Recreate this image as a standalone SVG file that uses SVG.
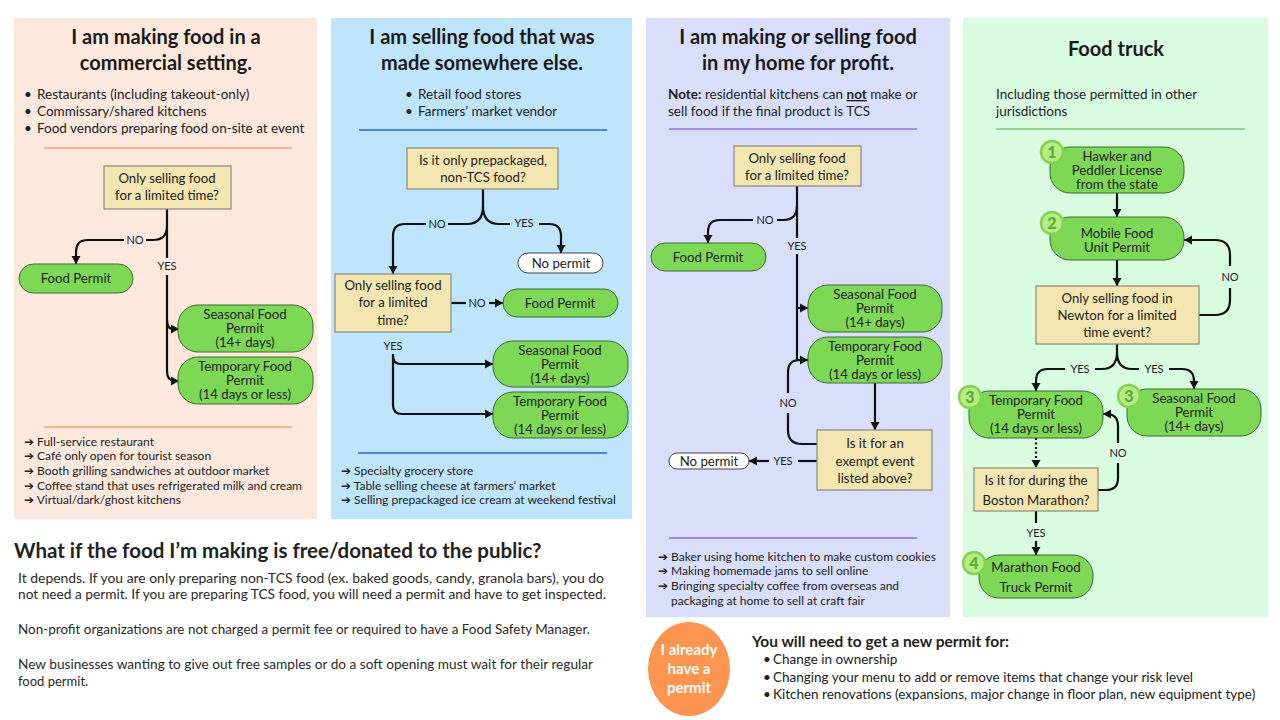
<svg xmlns="http://www.w3.org/2000/svg" width="1280" height="720" viewBox="0 0 1280 720">
<defs>
<marker id="ah" markerUnits="userSpaceOnUse" markerWidth="10" markerHeight="10" refX="8" refY="5" orient="auto">
<path d="M0,0.5 L8,5 L0,9.5 Z" fill="#111"/>
</marker>
<style>
text{font-family:Lato,"Open Sans","Liberation Sans",sans-serif;fill:#222}
.title{font-size:20px;font-weight:700;text-anchor:middle;fill:#1a1a1a}
.bul{font-size:13.5px}
.ex{font-size:12px}
.nt{font-size:13.2px;text-anchor:middle}
.lbl{font-size:11px;text-anchor:middle}
.pill{fill:#7dd856;stroke:#3f6b33;stroke-width:1}
.np{fill:#fff;stroke:#444;stroke-width:1}
.dec{fill:#f3e6b0;stroke:#8a8a78;stroke-width:1.2}
.badge{fill:#b6ec84;stroke:#86d24f;stroke-width:2.5}
.bn{font-size:16px;font-weight:900;fill:#58ad33;text-anchor:middle}
.c{fill:none;stroke:#111;stroke-width:2.2}
.ca{fill:none;stroke:#111;stroke-width:2.2;marker-end:url(#ah)}
.body{font-size:13px;fill:#2a2a2a}
.wt{font-size:15px;font-weight:700;text-anchor:middle;fill:#fff}
</style>
</defs>

<!-- panels -->
<g id="panel-commercial">
<rect x="14" y="18" width="303" height="501" fill="#fde8de"/>
<text class="title" x="166" y="44">I am making food in a</text>
<text class="title" x="166" y="70">commercial setting.</text>
<text class="bul" x="24" y="99">•</text><text class="bul" x="37" y="99">Restaurants (including takeout-only)</text>
<text class="bul" x="24" y="116">•</text><text class="bul" x="37" y="116">Commissary/shared kitchens</text>
<text class="bul" x="24" y="133">•</text><text class="bul" x="37" y="133">Food vendors preparing food on-site at event</text>
<line x1="44" y1="148" x2="292" y2="148" stroke="#f7a36c" stroke-width="1.5"/>
<line x1="44" y1="427" x2="292" y2="427" stroke="#f7a36c" stroke-width="1.5"/>
<text class="ex" x="24" y="446">➔ Full-service restaurant</text>
<text class="ex" x="24" y="460">➔ Café only open for tourist season</text>
<text class="ex" x="24" y="475">➔ Booth grilling sandwiches at outdoor market</text>
<text class="ex" x="24" y="490">➔ Coffee stand that uses refrigerated milk and cream</text>
<text class="ex" x="24" y="504">➔ Virtual/dark/ghost kitchens</text>
</g>

<g id="panel-elsewhere">
<rect x="331" y="18" width="301" height="501" fill="#bee5fb"/>
<text class="title" x="482" y="44">I am selling food that was</text>
<text class="title" x="482" y="70">made somewhere else.</text>
<text class="bul" x="405" y="99">•</text><text class="bul" x="418" y="99">Retail food stores</text>
<text class="bul" x="405" y="116">•</text><text class="bul" x="418" y="116">Farmers’ market vendor</text>
<line x1="359" y1="130" x2="607" y2="130" stroke="#2f62c8" stroke-width="1.5"/>
<line x1="358" y1="453" x2="607" y2="453" stroke="#2f62c8" stroke-width="1.5"/>
<text class="ex" x="341" y="475">➔ Specialty grocery store</text>
<text class="ex" x="341" y="490">➔ Table selling cheese at farmers’ market</text>
<text class="ex" x="341" y="504">➔ Selling prepackaged ice cream at weekend festival</text>
</g>

<g id="panel-home">
<rect x="646" y="18" width="304" height="599" fill="#d9dffb"/>
<text class="title" x="798" y="44">I am making or selling food</text>
<text class="title" x="798" y="70">in my home for profit.</text>
<text class="bul" x="668" y="99"><tspan font-weight="700">Note:</tspan> residential kitchens can <tspan font-weight="700" text-decoration="underline">not</tspan> make or</text>
<text class="bul" x="668" y="116">sell food if the final product is TCS</text>
<line x1="669" y1="129" x2="917" y2="129" stroke="#9067f0" stroke-width="1.5"/>
<line x1="669" y1="538" x2="917" y2="538" stroke="#9067f0" stroke-width="1.5"/>
<text class="ex" x="658" y="561">➔ Baker using home kitchen to make custom cookies</text>
<text class="ex" x="658" y="575">➔ Making homemade jams to sell online</text>
<text class="ex" x="658" y="590">➔ Bringing specialty coffee from overseas and</text>
<text class="ex" x="671" y="605">packaging at home to sell at craft fair</text>
</g>

<g id="panel-truck">
<rect x="963" y="18" width="305" height="599" fill="#d9fbe0"/>
<text class="title" x="1116" y="56">Food truck</text>
<text class="bul" x="996" y="99">Including those permitted in other</text>
<text class="bul" x="996" y="116">jurisdictions</text>
<line x1="996" y1="129" x2="1245" y2="129" stroke="#82c878" stroke-width="1.5"/>
</g>

<!-- connectors -->
<g id="connectors">
<!-- panel 1 -->
<path class="c" d="M167,209 V258"/>
<path class="c" d="M167,226 Q167,240 153,240 H146"/>
<path class="ca" d="M124,240 H88 Q76,240 76,252 V264"/>
<path class="c" d="M167,275 V371 Q167,381 175,381"/>
<path class="ca" d="M175,381 H179"/>
<path class="c" d="M167,320 Q167,329 173,329"/>
<path class="ca" d="M173,329 H179"/>
<!-- panel 2 -->
<path class="c" d="M483,189 V206 Q483,224 467,224 H448"/>
<path class="ca" d="M426,224 H405 Q393,224 393,236 V274"/>
<path class="c" d="M483,206 Q483,224 499,224 H510"/>
<path class="ca" d="M539,224 H549 Q561,224 561,236 V253"/>
<path class="c" d="M451,303 H466"/>
<path class="ca" d="M489,303 H503"/>
<path class="c" d="M393,354 V405 Q393,414 402,414"/>
<path class="ca" d="M402,414 H493"/>
<path class="c" d="M393,356 Q393,364 401,364"/>
<path class="ca" d="M401,364 H493"/>
<!-- panel 3 -->
<path class="c" d="M797,186 V238"/>
<path class="c" d="M797,206 Q797,220 783,220 H777"/>
<path class="ca" d="M753,220 H720 Q708,220 708,232 V243"/>
<path class="c" d="M797,254 V360"/>
<path class="ca" d="M797,360 H808"/>
<path class="ca" d="M797,308 H808"/>
<path class="c" d="M817,444 H802 Q788,444 788,430 V413"/>
<path class="c" d="M788,393 V372 Q788,360 800,360"/>
<path class="ca" d="M875,383 V430"/>
<path class="c" d="M817,461 H798"/>
<path class="ca" d="M769,461 H749"/>
<!-- panel 4 -->
<path class="ca" d="M1117,193 V217"/>
<path class="ca" d="M1117,260 V286"/>
<path class="c" d="M1199,315 H1215 Q1230,315 1230,300 V288"/>
<path class="ca" d="M1230,266 V255 Q1230,240 1215,240 H1184"/>
<path class="c" d="M1117,344 V352 Q1117,369 1102,369 H1095"/>
<path class="ca" d="M1065,369 H1048 Q1036,369 1036,381 V391"/>
<path class="c" d="M1117,352 Q1117,369 1132,369 H1139"/>
<path class="ca" d="M1169,369 H1182 Q1194,369 1194,381 V389"/>
<path class="ca" d="M1036,438 V468" stroke-dasharray="2,2.5"/>
<path class="c" d="M1098,490 H1106 Q1118,490 1118,478 V463"/>
<path class="ca" d="M1118,443 V426 Q1118,414 1106,414 H1103"/>
<path class="c" d="M1036,511 V523"/>
<path class="ca" d="M1036,541 V555"/>
</g>

<!-- connector labels -->
<g id="labels">
<text class="lbl" x="135" y="244">NO</text>
<text class="lbl" x="167" y="270">YES</text>
<text class="lbl" x="437" y="228">NO</text>
<text class="lbl" x="524" y="227">YES</text>
<text class="lbl" x="477" y="307">NO</text>
<text class="lbl" x="393" y="350">YES</text>
<text class="lbl" x="765" y="224">NO</text>
<text class="lbl" x="797" y="250">YES</text>
<text class="lbl" x="788" y="407">NO</text>
<text class="lbl" x="783" y="465">YES</text>
<text class="lbl" x="1230" y="281">NO</text>
<text class="lbl" x="1080" y="373">YES</text>
<text class="lbl" x="1154" y="373">YES</text>
<text class="lbl" x="1118" y="457">NO</text>
<text class="lbl" x="1036" y="537">YES</text>
</g>

<!-- panel 1 nodes -->
<g id="p1-q"><rect class="dec" x="104" y="166" width="127" height="43"/><text class="nt" x="167" y="183">Only selling food</text><text class="nt" x="167" y="200">for a limited time?</text></g>
<g id="p1-food"><rect class="pill" x="19" y="264" width="114" height="29" rx="14.5"/><text class="nt" x="76" y="283">Food Permit</text></g>
<g id="p1-seasonal"><rect class="pill" x="178" y="305" width="135" height="47" rx="20"/><text class="nt" x="245" y="319">Seasonal Food</text><text class="nt" x="245" y="333">Permit</text><text class="nt" x="245" y="347">(14+ days)</text></g>
<g id="p1-temp"><rect class="pill" x="178" y="357" width="135" height="47" rx="20"/><text class="nt" x="245" y="371">Temporary Food</text><text class="nt" x="245" y="385">Permit</text><text class="nt" x="245" y="399">(14 days or less)</text></g>

<!-- panel 2 nodes -->
<g id="p2-q1"><rect class="dec" x="407" y="148" width="151" height="41"/><text class="nt" x="483" y="165">Is it only prepackaged,</text><text class="nt" x="483" y="182">non-TCS food?</text></g>
<g id="p2-nopermit"><rect class="np" x="518" y="253" width="85" height="20" rx="10"/><text class="nt" x="561" y="268">No permit</text></g>
<g id="p2-q2"><rect class="dec" x="335" y="274" width="116" height="58"/><text class="nt" x="393" y="290">Only selling food</text><text class="nt" x="393" y="307">for a limited</text><text class="nt" x="393" y="325">time?</text></g>
<g id="p2-food"><rect class="pill" x="503" y="289" width="115" height="28" rx="14"/><text class="nt" x="560" y="308">Food Permit</text></g>
<g id="p2-seasonal"><rect class="pill" x="493" y="341" width="135" height="46" rx="20"/><text class="nt" x="560" y="355">Seasonal Food</text><text class="nt" x="560" y="369">Permit</text><text class="nt" x="560" y="383">(14+ days)</text></g>
<g id="p2-temp"><rect class="pill" x="493" y="392" width="135" height="46" rx="20"/><text class="nt" x="560" y="406">Temporary Food</text><text class="nt" x="560" y="420">Permit</text><text class="nt" x="560" y="434">(14 days or less)</text></g>

<!-- panel 3 nodes -->
<g id="p3-q"><rect class="dec" x="734" y="146" width="127" height="40"/><text class="nt" x="797" y="163">Only selling food</text><text class="nt" x="797" y="180">for a limited time?</text></g>
<g id="p3-food"><rect class="pill" x="651" y="243" width="115" height="28" rx="14"/><text class="nt" x="708" y="262">Food Permit</text></g>
<g id="p3-seasonal"><rect class="pill" x="808" y="285" width="134" height="47" rx="20"/><text class="nt" x="875" y="299">Seasonal Food</text><text class="nt" x="875" y="313">Permit</text><text class="nt" x="875" y="327">(14+ days)</text></g>
<g id="p3-temp"><rect class="pill" x="808" y="337" width="134" height="46" rx="20"/><text class="nt" x="875" y="351">Temporary Food</text><text class="nt" x="875" y="365">Permit</text><text class="nt" x="875" y="379">(14 days or less)</text></g>
<g id="p3-exempt"><rect class="dec" x="817" y="430" width="115" height="60"/><text class="nt" x="875" y="448">Is it for an</text><text class="nt" x="875" y="466">exempt event</text><text class="nt" x="875" y="483">listed above?</text></g>
<g id="p3-nopermit"><rect class="np" x="669" y="453" width="80" height="16" rx="8"/><text class="nt" x="709" y="466">No permit</text></g>

<!-- panel 4 nodes -->
<g id="p4-hawker"><rect class="pill" x="1050" y="147" width="134" height="46" rx="20"/><text class="nt" x="1117" y="161">Hawker and</text><text class="nt" x="1117" y="175">Peddler License</text><text class="nt" x="1117" y="189">from the state</text><circle class="badge" cx="1052" cy="152" r="11"/><text class="bn" x="1052" y="157.5">1</text></g>
<g id="p4-mobile"><rect class="pill" x="1050" y="217" width="134" height="43" rx="20"/><text class="nt" x="1117" y="238">Mobile Food</text><text class="nt" x="1117" y="252">Unit Permit</text><circle class="badge" cx="1052" cy="223" r="11"/><text class="bn" x="1052" y="228.5">2</text></g>
<g id="p4-q"><rect class="dec" x="1036" y="286" width="163" height="58"/><text class="nt" x="1117" y="303">Only selling food in</text><text class="nt" x="1117" y="320">Newton for a limited</text><text class="nt" x="1117" y="337">time event?</text></g>
<g id="p4-temp"><rect class="pill" x="969" y="391" width="134" height="47" rx="20"/><text class="nt" x="1036" y="405">Temporary Food</text><text class="nt" x="1036" y="419">Permit</text><text class="nt" x="1036" y="433">(14 days or less)</text><circle class="badge" cx="970" cy="397" r="11"/><text class="bn" x="970" y="402.5">3</text></g>
<g id="p4-seasonal"><rect class="pill" x="1127" y="389" width="134" height="47" rx="20"/><text class="nt" x="1194" y="403">Seasonal Food</text><text class="nt" x="1194" y="417">Permit</text><text class="nt" x="1194" y="431">(14+ days)</text><circle class="badge" cx="1129" cy="396" r="11"/><text class="bn" x="1129" y="401.5">3</text></g>
<g id="p4-boston"><rect class="dec" x="974" y="468" width="124" height="43"/><text class="nt" x="1036" y="485">Is it for during the</text><text class="nt" x="1036" y="505">Boston Marathon?</text></g>
<g id="p4-marathon"><rect class="pill" x="979" y="555" width="114" height="43" rx="20"/><text class="nt" x="1036" y="572">Marathon Food</text><text class="nt" x="1036" y="592">Truck Permit</text><circle class="badge" cx="974" cy="563" r="11"/><text class="bn" x="974" y="568.5">4</text></g>

<!-- bottom left -->
<g id="free-food">
<text x="14" y="558" font-size="20.5" font-weight="700" fill="#1a1a1a">What if the food I’m making is free/donated to the public?</text>
<text class="body" x="18" y="583" textLength="586" lengthAdjust="spacingAndGlyphs">It depends. If you are only preparing non-TCS food (ex. baked goods, candy, granola bars), you do</text>
<text class="body" x="18" y="599" textLength="588" lengthAdjust="spacingAndGlyphs">not need a permit. If you are preparing TCS food, you will need a permit and have to get inspected.</text>
<text class="body" x="18" y="634" textLength="572" lengthAdjust="spacingAndGlyphs">Non-profit organizations are not charged a permit fee or required to have a Food Safety Manager.</text>
<text class="body" x="18" y="669" textLength="575" lengthAdjust="spacingAndGlyphs">New businesses wanting to give out free samples or do a soft opening must wait for their regular</text>
<text class="body" x="18" y="686">food permit.</text>
</g>

<!-- bottom right -->
<g id="already-permit">
<ellipse cx="689" cy="669" rx="41" ry="47" fill="#fd9550"/>
<text class="wt" x="689" y="655">I already</text>
<text class="wt" x="689" y="674">have a</text>
<text class="wt" x="689" y="693">permit</text>
<text x="752" y="647" font-size="15.5" font-weight="700" fill="#1a1a1a">You will need to get a new permit for:</text>
<text class="bul" x="763" y="664">•</text><text class="bul" x="773" y="664">Change in ownership</text>
<text class="bul" x="763" y="682">•</text><text class="bul" x="773" y="682">Changing your menu to add or remove items that change your risk level</text>
<text class="bul" x="763" y="699">•</text><text class="bul" x="773" y="699">Kitchen renovations (expansions, major change in floor plan, new equipment type)</text>
</g>
</svg>
